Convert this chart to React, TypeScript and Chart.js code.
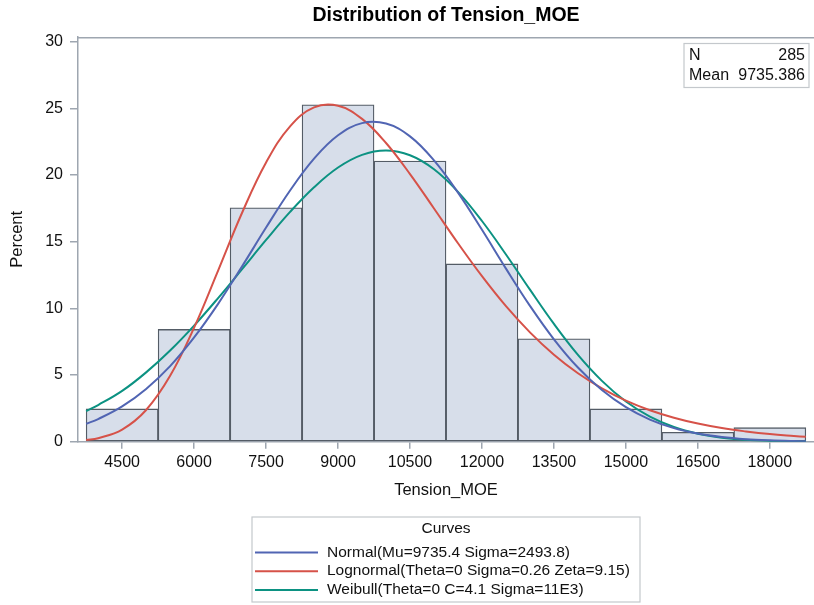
import React, { useEffect, useRef } from "react";
import { Chart, registerables } from "chart.js";

Chart.register(...registerables);

const FONT = "'Liberation Sans', Arial, Helvetica, sans-serif";

// Histogram bins (midpoints) and percent of observations in each bin
const binCenters = [4500, 6000, 7500, 9000, 10500, 12000, 13500, 15000, 16500, 18000];
const binPercents = [2.456, 8.421, 17.544, 25.263, 21.053, 13.333, 7.719, 2.456, 0.702, 1.053];

// Axis tick labels
const xTickValues = [4500, 6000, 7500, 9000, 10500, 12000, 13500, 15000, 16500, 18000];
const yTickValues = [0, 5, 10, 15, 20, 25, 30];

// Fitted density curves, expressed as percent per bin width
const curveX = [
  3750, 4000, 4500, 5000, 5500, 6000, 6500, 7000, 7500, 8000, 8500, 9000, 9500, 10000, 10500, 11000,
  11500, 12000, 12500, 13000, 13500, 14000, 14500, 15000, 15500, 16000, 16500, 17000, 17500, 18000,
  18500, 18750,
];
const normalPct = [
  1.35, 1.7, 2.65, 3.96, 5.67, 7.82, 10.34, 13.15, 16.06, 18.84, 21.23, 22.98, 23.89, 23.86, 22.9, 21.1,
  18.68, 15.89, 12.98, 10.19, 7.68, 5.56, 3.87, 2.59, 1.66, 1.02, 0.61, 0.35, 0.19, 0.1, 0.05, 0.04,
];
const lognormalPct = [
  0.12, 0.26, 0.91, 2.38, 4.94, 8.55, 12.83, 17.17, 20.94, 23.65, 25.07, 25.19, 24.21, 22.4, 20.07, 17.49,
  14.88, 12.41, 10.16, 8.2, 6.52, 5.13, 4.0, 3.08, 2.36, 1.8, 1.36, 1.02, 0.77, 0.57, 0.43, 0.37,
];
const weibullPct = [
  2.3, 2.75, 3.81, 5.2, 6.84, 8.71, 10.77, 12.94, 15.13, 17.23, 19.08, 20.56, 21.51, 21.84, 21.48, 20.43,
  18.74, 16.55, 14.04, 11.4, 8.83, 6.51, 4.56, 3.01, 1.88, 1.1, 0.6, 0.3, 0.14, 0.06, 0.02, 0.02,
];

const curveLabels = [
  "Normal(Mu=9735.4 Sigma=2493.8)",
  "Lognormal(Theta=0 Sigma=0.26 Zeta=9.15)",
  "Weibull(Theta=0 C=4.1 Sigma=11E3)",
];
const curveColors = ["#5165b3", "#d65249", "#0c9282"];

const statLabels = ["N", "Mean"];
const statValues = ["285", "9735.386"];

const TITLE = "Distribution of Tension_MOE";
const FRAME = "#9ea6b0";
const TEXT = "#111111";

const decorations = {
  id: "decorations",
  afterDraw(chart: any) {
    const { ctx, chartArea: a } = chart;
    const cx = (a.left + a.right) / 2;
    ctx.save();

    // Title
    ctx.fillStyle = "#000";
    ctx.font = `bold 19.5px ${FONT}`;
    ctx.textAlign = "center";
    ctx.textBaseline = "middle";
    ctx.fillText(TITLE, cx, 16);

    // Top frame line
    ctx.strokeStyle = FRAME;
    ctx.lineWidth = 1.5;
    ctx.beginPath();
    ctx.moveTo(a.left, a.top + 0.75);
    ctx.lineTo(a.right, a.top + 0.75);
    ctx.stroke();

    // Statistics inset
    const bw = 125;
    const bx = a.right - 130;
    const by = a.top + 6.5;
    const bh = 44;
    ctx.fillStyle = "#fff";
    ctx.fillRect(bx, by, bw, bh);
    ctx.strokeStyle = "#c4c8cc";
    ctx.lineWidth = 1.2;
    ctx.strokeRect(bx, by, bw, bh);
    ctx.fillStyle = TEXT;
    ctx.font = `16px ${FONT}`;
    statLabels.forEach((lab, i) => {
      const y = by + 12.5 + i * 19.5;
      ctx.textAlign = "left";
      ctx.fillText(lab, bx + 5, y);
      ctx.textAlign = "right";
      ctx.fillText(statValues[i], bx + bw - 4, y);
    });

    // Curves legend
    const lw = 388;
    const lx = cx - lw / 2;
    const ly = 517;
    const lh = 85;
    ctx.strokeStyle = "#c4c8cc";
    ctx.lineWidth = 1.2;
    ctx.strokeRect(lx, ly, lw, lh);
    ctx.fillStyle = TEXT;
    ctx.font = `15.5px ${FONT}`;
    ctx.textAlign = "center";
    ctx.fillText("Curves", cx, ly + 12);
    curveLabels.forEach((lab, i) => {
      const y = ly + 35.5 + i * 18.7;
      ctx.strokeStyle = curveColors[i];
      ctx.lineWidth = 2;
      ctx.beginPath();
      ctx.moveTo(lx + 3, y);
      ctx.lineTo(lx + 66, y);
      ctx.stroke();
      ctx.fillStyle = TEXT;
      ctx.textAlign = "left";
      ctx.fillText(lab, lx + 75, y);
    });

    ctx.restore();
  },
};

function toPoints(ys: number[]) {
  return curveX.map((x, i) => ({ x, y: ys[i] }));
}

export default function App() {
  const canvasRef = useRef<HTMLCanvasElement | null>(null);

  useEffect(() => {
    const canvas = canvasRef.current;
    if (!canvas) return;

    const curveSeries = [normalPct, lognormalPct, weibullPct];
    const lineSets = curveSeries.map((ys, i) => ({
      type: "line" as const,
      label: curveLabels[i],
      data: toPoints(ys),
      borderColor: curveColors[i],
      borderWidth: 2,
      pointRadius: 0,
      fill: false,
      tension: 0.4,
      order: i + 1,
    }));

    const chart = new Chart(canvas, {
      type: "bar",
      data: {
        datasets: [
          ...lineSets,
          {
            type: "bar" as const,
            label: "Percent",
            data: binCenters.map((x, i) => ({ x, y: binPercents[i] })),
            backgroundColor: "#d7deea",
            borderColor: "#545c66",
            borderWidth: 1.3,
            borderSkipped: false,
            barPercentage: 1,
            categoryPercentage: 1,
            order: 10,
          },
        ] as any,
      },
      options: {
        responsive: false,
        animation: false,
        devicePixelRatio: 1,
        layout: { padding: { top: 37, left: 0, right: 0, bottom: 0 } },
        plugins: {
          legend: { display: false },
          tooltip: { enabled: false },
          title: { display: false },
        },
        scales: {
          x: {
            type: "linear",
            min: 3580,
            max: 18920,
            offset: false,
            afterFit: (s: any) => {
              s.height = 163.3;
            },
            afterBuildTicks: (s: any) => {
              s.ticks = xTickValues.map((v) => ({ value: v }));
            },
            grid: {
              display: true,
              drawOnChartArea: false,
              drawTicks: true,
              tickLength: 7,
              color: FRAME,
              lineWidth: 1.5,
              offset: false,
            },
            border: { display: true, color: FRAME, width: 1.5 },
            ticks: {
              padding: 4,
              color: TEXT,
              font: { family: FONT, size: 16 },
              maxRotation: 0,
              autoSkip: false,
              callback: (v: any) => String(v),
            },
            title: {
              display: true,
              text: "Tension_MOE",
              color: TEXT,
              font: { family: FONT, size: 16.5 },
              padding: { top: 0, bottom: 105 },
            },
          },
          y: {
            type: "linear",
            min: 0,
            max: 30.35,
            afterFit: (s: any) => {
              s.width = 78;
            },
            afterBuildTicks: (s: any) => {
              s.ticks = yTickValues.map((v) => ({ value: v }));
            },
            grid: {
              display: true,
              drawOnChartArea: false,
              drawTicks: true,
              tickLength: 8,
              color: FRAME,
              lineWidth: 1.5,
            },
            border: { display: true, color: FRAME, width: 1.5 },
            ticks: {
              padding: 7,
              color: TEXT,
              font: { family: FONT, size: 16 },
              callback: (v: any) => String(v),
            },
            title: {
              display: true,
              text: "Percent",
              color: TEXT,
              font: { family: FONT, size: 16.5 },
              padding: { top: 8, bottom: 0 },
            },
          },
        },
      } as any,
      plugins: [decorations],
    });

    return () => chart.destroy();
  }, []);

  return (
    <div style={{ position: "absolute", left: 0, top: 0, width: 814, height: 605, background: "#fff" }}>
      <canvas ref={canvasRef} width={814} height={605} style={{ display: "block" }} />
    </div>
  );
}
